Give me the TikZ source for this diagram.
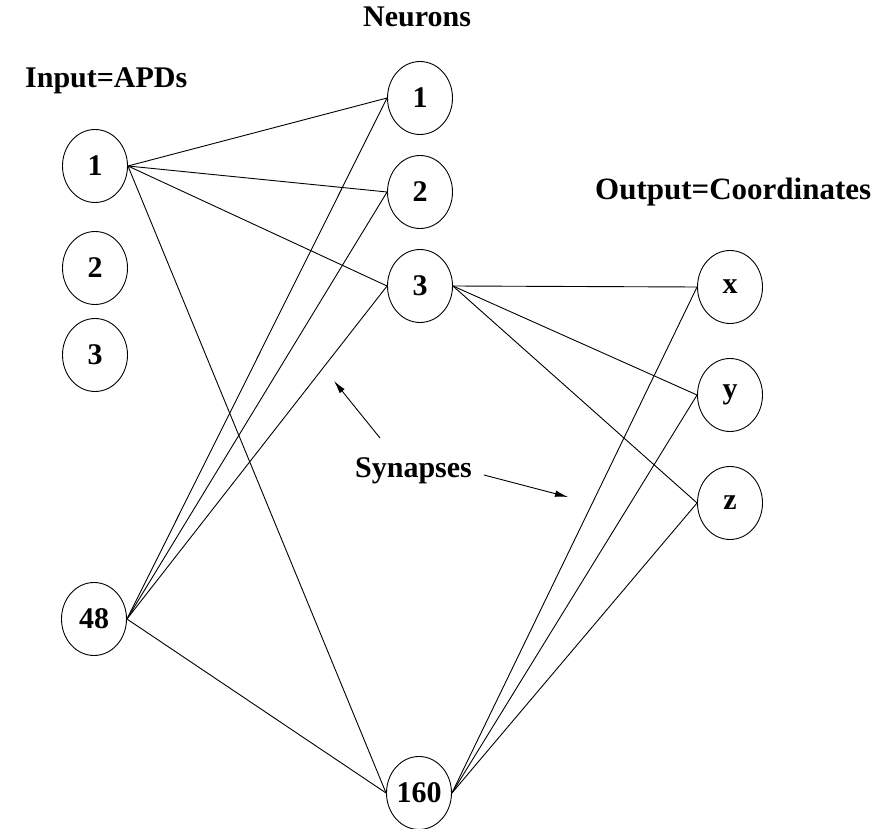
\documentclass[tikz,border=0pt]{standalone}
\usepackage{fontspec}
\setmainfont{Liberation Serif}
\usetikzlibrary{shapes.geometric,arrows.meta}
\begin{document}
\begin{tikzpicture}[x=1pt,y=-1pt,
  unit/.style={ellipse,draw,line width=0.9pt,minimum width=65pt,minimum height=73pt,inner sep=0pt,font=\fontsize{30}{30}\selectfont\bfseries},
  lbl/.style={anchor=base west,inner sep=0pt,font=\fontsize{30}{30}\selectfont\bfseries},
  conn/.style={line width=0.9pt},
  pointer/.style={line width=0.9pt,-{Latex[length=13pt,width=6.5pt]}}]
\useasboundingbox (0,0) rectangle (895,829);
% input layer
\node[unit] (i1) at (95,166) {1};
\node[unit] (i2) at (95,268) {2};
\node[unit] (i3) at (95,355) {3};
\node[unit] (i48) at (94,619) {48};
% hidden
\node[unit] (n1) at (420,98) {1};
\node[unit] (n2) at (420,192) {2};
\node[unit] (n3) at (420,286) {3};
\node[unit] (n160) at (419,793) {160};
% output
\node[unit] (ox) at (730,287) {x};
\node[unit] (oy) at (730,395) {y};
\node[unit] (oz) at (730,503) {z};
% labels
\node[lbl] (tin) at (25,88) {Input=APDs};
\node[lbl] (tne) at (363,27) {Neurons};
\node[lbl,font=\fontsize{31}{31}\selectfont\bfseries] (tout) at (595,200) {Output=Coordinates};
\node[lbl] (tsyn) at (355,477) {Synapses};
% connections
\foreach \t in {n1,n2,n3} {
  \draw[conn] (i1.east) -- (\t.west);
  \draw[conn] (i48.east) -- (\t.west);
}
\draw[conn] (i1.east) -- (n160.west);
\draw[conn] (i48.east) -- (n160.west);
\foreach \t in {ox,oy,oz} {
  \draw[conn] (n3.east) -- (\t.west);
  \draw[conn] (n160.east) -- (\t.west);
}
% pointers
\coordinate (a1s) at (380,438);
\coordinate (a1e) at (334,381);
\coordinate (a2s) at (484,475);
\coordinate (a2e) at (568,497);
\draw[pointer] (a1s) -- (a1e);
\draw[pointer] (a2s) -- (a2e);
\end{tikzpicture}
\end{document}
